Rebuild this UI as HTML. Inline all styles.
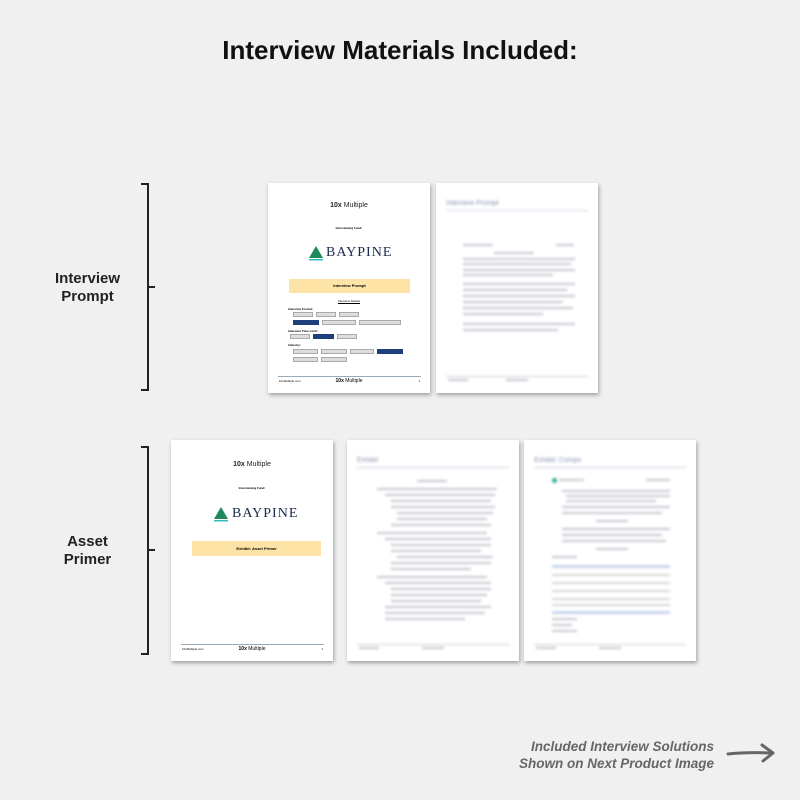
<!DOCTYPE html>
<html><head><meta charset="utf-8"><style>
*{margin:0;padding:0;box-sizing:border-box}
body{width:800px;height:800px;background:#f0f0f0;position:relative;overflow:hidden;font-family:"Liberation Sans",sans-serif}
.a{position:absolute}
.pg{position:absolute;background:#fff;box-shadow:1px 2px 4px rgba(0,0,0,.35)}
.c{position:absolute;left:0;right:0;text-align:center}
.chip{position:absolute;height:5px;background:#ddd;border:1px solid #aaa}
.chip.b{background:#1f3f7a;border-color:#1f3f7a}
.bl{filter:blur(1.2px)}
.bar{position:absolute;height:2px;background:#c6c6d0}
.lbl{position:absolute;font-size:15px;font-weight:bold;color:#222;text-align:center;line-height:18px}
.brk{position:absolute;border:2px solid #222;border-left:none;width:8px}
</style></head><body>
<div class="c" style="top:35px;font-size:26px;font-weight:bold;color:#111">Interview Materials Included:</div>

<div class="brk" style="left:141px;top:183px;height:208px"></div>
<div class="a" style="left:149px;top:286px;width:6px;height:2px;background:#222"></div>
<div class="lbl" style="left:40px;top:270px;width:95px">Interview<br>Prompt</div>
<div class="brk" style="left:141px;top:446px;height:209px"></div>
<div class="a" style="left:149px;top:549px;width:6px;height:2px;background:#222"></div>
<div class="lbl" style="left:40px;top:533px;width:95px">Asset<br>Primer</div>

<div class="pg" style="left:268px;top:183px;width:162px;height:210px">
 <div class="c" style="top:19px;font-size:7px;color:#222"><b>10x</b> Multiple</div>
 <div class="c" style="top:43px;font-size:3px;font-weight:bold">Interviewing Fund:</div>
 <svg class="a" style="left:40px;top:62px" width="16" height="16"><polygon points="8,1 15,13 1,13" fill="#1e8a5a"/><rect x="1" y="14" width="14" height="1.5" fill="#3bb"/></svg>
 <div class="a" style="left:58px;top:62px;font-family:'Liberation Serif',serif;font-size:14px;color:#1a2a4a;letter-spacing:1px">BAYPINE</div>
 <div class="a" style="left:21px;top:96px;width:121px;height:14px;background:#fde3a5;font-size:4px;font-weight:bold;text-align:center;line-height:14px">Interview Prompt</div>
 <div class="c" style="top:116px;font-size:3px;text-decoration:underline">Interview Details</div>
 <div class="a" style="left:20px;top:124px;font-size:3px;font-weight:bold">Interview Format:</div>
 <div class="chip" style="left:25px;top:129px;width:20px"></div><div class="chip" style="left:48px;top:129px;width:20px"></div><div class="chip" style="left:71px;top:129px;width:20px"></div>
 <div class="chip b" style="left:25px;top:137px;width:26px"></div><div class="chip" style="left:54px;top:137px;width:34px"></div><div class="chip" style="left:91px;top:137px;width:42px"></div>
 <div class="a" style="left:20px;top:146px;font-size:3px;font-weight:bold">Interview Time Limit:</div>
 <div class="chip" style="left:22px;top:151px;width:20px"></div><div class="chip b" style="left:45px;top:151px;width:21px"></div><div class="chip" style="left:69px;top:151px;width:20px"></div>
 <div class="a" style="left:20px;top:160px;font-size:3px;font-weight:bold">Industry:</div>
 <div class="chip" style="left:25px;top:166px;width:25px"></div><div class="chip" style="left:53px;top:166px;width:26px"></div><div class="chip" style="left:82px;top:166px;width:24px"></div><div class="chip b" style="left:109px;top:166px;width:26px"></div>
 <div class="chip" style="left:25px;top:174px;width:25px"></div><div class="chip" style="left:53px;top:174px;width:26px"></div>
 <div class="a" style="left:10px;top:193px;width:143px;height:1px;background:#9ab"></div>
 <div class="a" style="left:11px;top:196px;font-size:3px">10xMultiple.com</div>
 <div class="c" style="top:195px;font-size:5px"><b>10x</b> Multiple</div>
 <div class="a" style="right:10px;top:196px;font-size:3px">1</div>
</div>

<div class="pg" style="left:436px;top:183px;width:162px;height:210px">
 <div class="bl">
 <div class="a" style="left:10px;top:17px;font-size:7px;color:#8890b0">Interview Prompt</div>
 <div class="a" style="left:10px;top:27px;width:142px;height:1px;background:#cfd3e0"></div>
 <div class="bar" style="left:27px;top:61px;width:30px"></div><div class="bar" style="left:120px;top:61px;width:18px"></div>
 <div class="bar" style="left:58px;top:69px;width:40px"></div>
 <div class="bar" style="left:27px;top:75px;width:112px"></div><div class="bar" style="left:27px;top:80px;width:108px"></div><div class="bar" style="left:27px;top:86px;width:112px"></div><div class="bar" style="left:27px;top:91px;width:90px"></div>
 <div class="bar" style="left:27px;top:100px;width:112px"></div><div class="bar" style="left:27px;top:106px;width:104px"></div><div class="bar" style="left:27px;top:112px;width:112px"></div><div class="bar" style="left:27px;top:118px;width:100px"></div><div class="bar" style="left:27px;top:124px;width:110px"></div><div class="bar" style="left:27px;top:130px;width:80px"></div>
 <div class="bar" style="left:27px;top:140px;width:112px"></div><div class="bar" style="left:27px;top:146px;width:95px"></div>
 <div class="a" style="left:10px;top:193px;width:143px;height:1px;background:#ccc"></div>
 <div class="bar" style="left:12px;top:196px;width:20px"></div><div class="bar" style="left:70px;top:196px;width:22px"></div>
 </div>
</div>

<div class="pg" style="left:171px;top:440px;width:162px;height:221px">
 <div class="c" style="top:21px;font-size:7px;color:#222"><b>10x</b> Multiple</div>
 <div class="c" style="top:46px;font-size:3px;font-weight:bold">Interviewing Fund:</div>
 <div class="a" style="left:42px;top:66px"><svg width="16" height="16"><polygon points="8,1 15,13 1,13" fill="#1e8a5a"/><rect x="1" y="14" width="14" height="1.5" fill="#3bb"/></svg></div>
 <div class="a" style="left:61px;top:66px;font-family:'Liberation Serif',serif;font-size:14px;color:#1a2a4a;letter-spacing:1px">BAYPINE</div>
 <div class="a" style="left:21px;top:101px;width:129px;height:15px;background:#fde3a5;font-size:4px;font-weight:bold;text-align:center;line-height:15px">Exhibit: Asset Primer</div>
 <div class="a" style="left:10px;top:204px;width:143px;height:1px;background:#9ab"></div>
 <div class="a" style="left:11px;top:207px;font-size:3px">10xMultiple.com</div>
 <div class="c" style="top:206px;font-size:5px"><b>10x</b> Multiple</div>
 <div class="a" style="right:10px;top:207px;font-size:3px">1</div>
</div>

<div class="pg" style="left:347px;top:440px;width:172px;height:221px">
 <div class="bl">
 <div class="a" style="left:10px;top:17px;font-size:7px;color:#8890b0">Exhibit</div>
 <div class="a" style="left:10px;top:27px;width:152px;height:1px;background:#cfd3e0"></div>
 <div class="bar" style="left:70px;top:40px;width:30px"></div>
 <div class="bar" style="left:30px;top:48px;width:120px"></div><div class="bar" style="left:38px;top:54px;width:110px"></div><div class="bar" style="left:44px;top:60px;width:100px"></div><div class="bar" style="left:44px;top:66px;width:104px"></div><div class="bar" style="left:50px;top:72px;width:96px"></div><div class="bar" style="left:50px;top:78px;width:90px"></div><div class="bar" style="left:44px;top:84px;width:100px"></div><div class="bar" style="left:30px;top:92px;width:110px"></div><div class="bar" style="left:38px;top:98px;width:106px"></div><div class="bar" style="left:44px;top:104px;width:100px"></div><div class="bar" style="left:44px;top:110px;width:90px"></div><div class="bar" style="left:50px;top:116px;width:96px"></div><div class="bar" style="left:44px;top:122px;width:100px"></div><div class="bar" style="left:44px;top:128px;width:80px"></div><div class="bar" style="left:30px;top:136px;width:110px"></div><div class="bar" style="left:38px;top:142px;width:106px"></div><div class="bar" style="left:44px;top:148px;width:100px"></div><div class="bar" style="left:44px;top:154px;width:96px"></div><div class="bar" style="left:44px;top:160px;width:90px"></div><div class="bar" style="left:38px;top:166px;width:106px"></div><div class="bar" style="left:38px;top:172px;width:100px"></div><div class="bar" style="left:38px;top:178px;width:80px"></div>
 <div class="a" style="left:10px;top:204px;width:152px;height:1px;background:#ccc"></div>
 <div class="bar" style="left:12px;top:207px;width:20px"></div><div class="bar" style="left:75px;top:207px;width:22px"></div>
 </div>
</div>

<div class="pg" style="left:524px;top:440px;width:172px;height:221px">
 <div class="bl">
 <div class="a" style="left:10px;top:17px;font-size:7px;color:#8890b0">Exhibit: Comps</div>
 <div class="a" style="left:10px;top:27px;width:152px;height:1px;background:#cfd3e0"></div>
 <div class="a" style="left:28px;top:38px;width:5px;height:5px;background:#3a9;border-radius:50%"></div>
 <div class="bar" style="left:35px;top:39px;width:25px"></div><div class="bar" style="left:122px;top:39px;width:24px"></div>
 <div class="bar" style="left:38px;top:50px;width:108px"></div><div class="bar" style="left:42px;top:55px;width:104px"></div><div class="bar" style="left:42px;top:60px;width:90px"></div><div class="bar" style="left:38px;top:66px;width:108px"></div><div class="bar" style="left:38px;top:72px;width:100px"></div>
 <div class="bar" style="left:72px;top:80px;width:32px"></div>
 <div class="bar" style="left:38px;top:88px;width:108px"></div><div class="bar" style="left:38px;top:94px;width:100px"></div><div class="bar" style="left:38px;top:100px;width:104px"></div>
 <div class="bar" style="left:72px;top:108px;width:32px"></div>
 <div class="bar" style="left:28px;top:116px;width:25px"></div>
 <div class="a" style="left:28px;top:125px;width:118px;height:3px;background:#c8d4ec"></div>
 <div class="bar" style="left:28px;top:134px;width:118px;background:#d4d4d4"></div><div class="bar" style="left:28px;top:142px;width:118px;background:#d4d4d4"></div><div class="bar" style="left:28px;top:150px;width:118px;background:#d4d4d4"></div><div class="bar" style="left:28px;top:158px;width:118px;background:#d4d4d4"></div><div class="bar" style="left:28px;top:164px;width:118px;background:#d4d4d4"></div>
 <div class="a" style="left:28px;top:171px;width:118px;height:3px;background:#c8d4ec"></div>
 <div class="bar" style="left:28px;top:178px;width:25px"></div><div class="bar" style="left:28px;top:184px;width:20px"></div><div class="bar" style="left:28px;top:190px;width:25px"></div>
 <div class="a" style="left:10px;top:204px;width:152px;height:1px;background:#ccc"></div>
 <div class="bar" style="left:12px;top:207px;width:20px"></div><div class="bar" style="left:75px;top:207px;width:22px"></div>
 </div>
</div>

<div class="a" style="left:470px;top:738px;width:244px;text-align:right;font-size:13.5px;font-style:italic;font-weight:bold;color:#666;line-height:17px">Included Interview Solutions<br>Shown on Next Product Image</div>
<svg class="a" style="left:726px;top:742px" width="52" height="22"><path d="M2 12 Q20 10 46 11" stroke="#666" stroke-width="3" fill="none" stroke-linecap="round"/><path d="M36 3 L47 11 L37 19" stroke="#666" stroke-width="3" fill="none" stroke-linecap="round" stroke-linejoin="round"/></svg>
</body></html>
